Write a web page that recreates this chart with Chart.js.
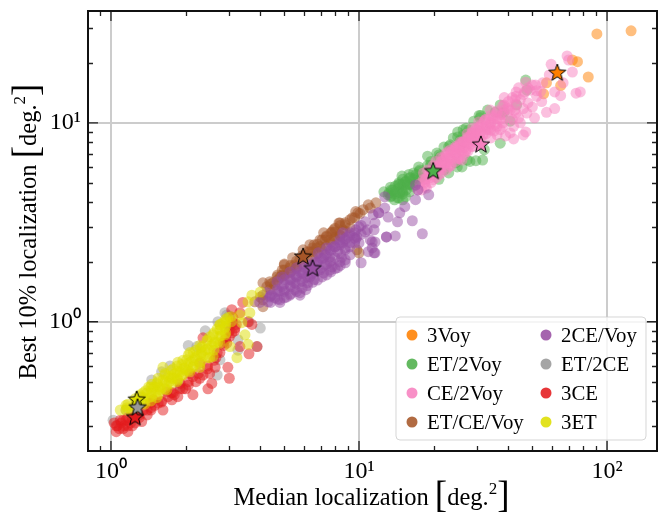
<!DOCTYPE html>
<html>
<head>
<meta charset="utf-8">
<style>
  html, body { margin: 0; padding: 0; background: #fff; }
  #wrap { width: 667px; height: 514px; }
</style>
<script src="https://cdn.jsdelivr.net/npm/chart.js@4/dist/chart.umd.min.js"></script>
</head>
<body>
<div id="wrap"><canvas id="chart" width="667" height="514"></canvas></div>
<script>
// values, [median, best 10%]
const voy3 = [[91,28],[125,29],[72.5,20.7],[76,20.3],[84,17],[57,15.9],[65,15.4],[55.5,14]];
const et2voy = [[47,16.4],[30.5,10.9],[33,11.6],[37.1,12.3],[40.7,10.2],[37.1,7.9],[29.6,6.45],[31.5,6.5],[24.9,6],[22,5.8],
  [26.3,9.24],[25,9],[24,8.4],[22,7.55],[20.6,7.05],[18.9,6.8],[17.4,6],[14.9,5.4],[15.6,4.9],[12.6,4.5],
  [13.4,4.25],[13.7,4.6],[14.4,4.9],[14.6,4.45],[15.4,4.25],[13.9,4.1],[16.1,5.3],[16.6,5.6],[17.6,5.8],[37.8,11.2],
  [43.2,12.3],[47.5,14.6],[26.3,8.7],[24.5,6.3],[27.3,6.5],[32,7.33],[19.4,6.1],[21.2,6.75],[23.3,7.75],[14.9,4.6],
  [15,4.1],[13.2,4.45],[13.1,4.35],[13.9,4.5],[14.6,4.9],[15.4,5.05],[16.1,4.9],[16.9,5.3],[13.4,4.75],[15,4.5],
  [14.3,4.2],[15.9,5.5],[17.9,5.3],[18.9,6.1],[20.8,6.5],[25.6,8.2],[27.7,9.2],[30.8,10.6],[35.4,11.3],[38.5,11.3],
  [13.5,4.3],[13.5,4.6],[14,4.4],[14,4.8],[14.5,4.2],[14.5,4.7],[14.5,5],[15,4.4],[15,4.9],[15,5.2],
  [15.5,4.6],[15.5,5.1],[16,4.5],[16,4.9],[16,5.3],[16.5,4.8],[16.5,5.2],[17,5],[17,5.5],[17.5,5.2],
  [17.5,5.7],[19.5,6.4],[21,6.9],[23,7.6],[25,8.5],[27,9.4],[29,10.2],[31,10.9],[21,5.2],[23,5.6],[26,6],[28,6.4]];
const ce2voy = [[69,21.7],[70,20.7],[59.5,19.7],[72.5,18],[58.5,17.4],[66.5,15.9],[61.5,14.3],[65,13.7],[75,14.1],[78,14.3],
  [57,11.3],[61.5,11.8],[54,14.4],[54.5,12.8],[50,15.5],[55,15.9],[46.5,14.3],[51,10.6],[47.5,11.2],[41.5,13.4],
  [38.5,13.4],[44.7,13.1],[46,13.9],[40.7,11.6],[37.1,10.4],[44.7,10],[46,8.7],[40.7,8.9],[33.8,10.4],[33,9.24],
  [30,9.24],[37.1,9.24],[41.5,10.4],[38.5,12.3],[36.1,11.3],[34.7,10.6],[33.8,11.6],[32,10.2],[30.4,9.5],[28.7,9.4],
  [28.1,8.6],[26.3,8],[27.3,8.8],[24.9,7.5],[25.6,8],[23.7,7.2],[24.5,7.6],[22.8,6.7],[23.3,7.3],[22,6.5],
  [22.4,7],[21.2,6.1],[21.4,6.7],[20.4,5.9],[20.4,6.4],[19.7,5.7],[19.9,6.1],[18.9,5.4],[18.9,5.8],[18.2,5.2],
  [18.2,5.6],[17.6,4.95],[17.3,4.6],[28.1,7.8],[29.6,8.2],[31.6,8.7],[29.5,8.9],[33.8,9.8],[26,7.2],[24.5,6.9],
  [22.8,6.3],[21.4,5.8],[30.8,9.5],[37.1,11],[39.8,12],[42.5,13.1],[49,14.6],[51.5,15.5],[48,15],[43,14.3],
  [18.7,4.7],[17.9,4.6],[19.9,5.18],[21,5.5],[23,6],[25,6.6],[27,7.3],
  [18.4,5],[19.4,5.3],[20.3,5.6],[21.2,5.95],[22.2,6.3],[23.3,6.65],[24.5,7.05],[25.6,7.5],[26.9,7.95],[28.1,8.4],
  [29.5,8.7],[30.8,8.4],[32.3,9.24],[33.8,9.45],[35.4,9.8],[19.4,5.7],[20.6,6.1],[21.8,6.65],[22.8,7.15],[24.5,7.5],
  [26,7.95],[27.7,8.4],[28.7,9],[30.4,10.1],[32.3,10.4],[35.4,10.9],[38.5,11.6],[42.5,11.6],[23.3,6.15],[25,6.65],
  [26.9,7.15],[28.7,7.65],[26,6.5],
  [18.5,4.8],[18.5,5.2],[19.5,5],[19.5,5.5],[20.5,5.3],[20.5,5.7],[20.5,6],[21.5,5.6],[21.5,6],[21.5,6.4],
  [22.5,5.8],[22.5,6.3],[22.5,6.8],[23.5,6.1],[23.5,6.6],[23.5,7.1],[24.5,6.4],[24.5,7.4],[25.5,6.6],[25.5,7.2],
  [25.5,7.8],[26.5,6.9],[26.5,7.5],[26.5,8.1],[27.5,7.2],[27.5,7.9],[27.5,8.5],[28.5,7.6],[28.5,8.2],[28.5,8.9],
  [29.5,8],[29.5,8.6],[29.5,9.3],[31,8.2],[31,9],[31,9.8],[32.5,8.8],[32.5,9.6],[32.5,10.4],[34,9.2],
  [34,10],[34,10.9],[36,9.6],[36,10.5],[36,11.5],[38,10],[38,11],[38,12.2],[40,10.6],[40,11.8],
  [40,12.8],[43,11.2],[43,12.4],[43,13.6],
  [35,9.1],[38,9.6],[42,9.6],[44,10.6],[46,11.8],[48,12.6],[52,13.6],[36,8.7],[34,8.4],[39,8.6],
  [42,8.3],[47,9],[50,12],[44,15],[47,16],[52,14.5]];
const etCeVoy = [[10.9,3.87],[11.7,3.96],[9.9,3.53],[10.1,3.5],[8.3,3.14],[7.8,2.83],[7.2,2.8],[6.96,2.58],[6.34,2.44],[5.4,2.1],
  [5,1.95],[4.67,1.68],[4.37,1.59],[10,2.22],[9.8,2.3],[9.2,3.26],[6.75,2.35],[5.6,1.89],[5.27,1.76],[7.4,2.67],
  [8,2.67],[8.6,2.9],[10.4,3.66],[11.1,3.73],[6.5,2.25],[5.95,2.3],[4.9,1.82],[4.5,1.57],[4.25,1.5],[4.1,1.29],
  [4,1.33],[3.8,1.26],[4.1,1.57],[4.9,1.72],[5,1.93],[4.1,1.19],[9.7,3.58],[8.38,3.14],[7.9,2.9],[9.4,3.33],
  [4.57,1.53],[5,1.72],[5.5,1.93],[6.05,2.17],[6.6,2.44],[7.3,2.58],[8,2.83],[8.8,3.07],[9.6,3.33],[5.78,2.05],
  [6.34,2.25],[6.96,2.39],[7.64,2.58],[8.38,2.73],[9.2,2.97],[4.8,1.67],[5.27,1.87],[4.37,1.45],[4.1,1.36],
  [4.4,1.55],[4.7,1.62],[4.7,1.72],[5,1.7],[5,1.82],[5.3,1.78],[5.3,1.92],[5.6,1.85],[5.6,2.02],[5.9,1.95],
  [5.9,2.15],[6.2,2.05],[6.2,2.25],[6.5,2.12],[6.5,2.35],[6.8,2.2],[6.8,2.45],[7.1,2.3],[7.1,2.58],[7.4,2.4],
  [7.4,2.7],[7.7,2.5],[7.7,2.8],[8,2.6],[8,2.95],[8.4,2.7],[8.4,3.05],[8.8,2.85],[8.8,3.15]];
const ce2Voy = [[4.37,1.33],[4.67,1.45],[4.9,1.5],[5.27,1.63],[5.6,1.68],[5.95,1.76],[6.34,1.82],[6.75,1.98],[7.2,2.1],[7.64,2.12],
  [8.2,2.25],[8.6,2.49],[9,2.67],[9.6,2.8],[10,3],[10.6,3.18],[11.4,3.45],[12,3.53],[4.8,1.29],[5.1,1.33],
  [5.5,1.45],[5.78,1.4],[6.2,1.57],[6.6,1.63],[7.2,1.76],[7.8,1.89],[8.2,1.87],[7.64,2],[8.5,2.1],[8.8,1.98],
  [9.2,2.38],[10,2.49],[11.1,2.58],[11.6,2.52],[11.3,2.35],[11.6,2.22],[10.9,2.25],[10.2,1.98],[12.9,2.67],[11.6,3.14],
  [10.8,2.9],[9.8,2.67],[9.2,2.8],[8.6,2.8],[8.38,2.58],[7.85,2.39],[7.4,2.35],[6.85,2.22],[5.95,1.98],[5.6,1.87],
  [5.27,1.78],[4.9,1.68],[4.67,1.59],[4.25,1.4],[3.98,1.25],[4.3,1.26],[4.8,1.25],[4.45,1.36],[5.27,1.36],[5.78,1.36],
  [6.1,1.45],[18,2.77],[16.4,3.22],[19.1,4.35],[17.3,4.6],[16.9,4.11],[15.3,3.79],[14.6,3.53],[14.3,3.18],[14,2.7],
  [12.9,2.67],[12.7,3.73],[13.1,3.36],[12,3.53],[11.5,2.9],[11.3,2.52],[11.5,2.22],[16.9,4.87],[12.7,4.25],
  [4.57,1.32],[5,1.42],[5.5,1.57],[6.05,1.66],[6.6,1.78],[7.3,1.93],[8,2.1],[8.8,2.3],[9.6,2.49],[4.8,1.42],
  [5.27,1.53],[5.78,1.59],[6.34,1.68],[6.96,1.82],[7.64,1.82],[8.38,2],[9.2,2.17],[5.78,1.78],[6.34,1.93],[6.96,2.1],
  [7.64,2.3],[8.38,2.44],[8.8,2.58],[5,1.63],[5.5,1.72],[6.05,1.87],[6.6,2],[7.3,2.17],[8,2.38],[9.6,2.64],[10.6,2.83],
  [4.4,1.25],[4.4,1.35],[4.7,1.3],[4.7,1.42],[5,1.32],[5,1.45],[5,1.55],[5.3,1.38],[5.3,1.5],[5.3,1.62],
  [5.6,1.42],[5.6,1.55],[5.6,1.7],[5.9,1.48],[5.9,1.6],[5.9,1.75],[6.2,1.52],[6.2,1.68],[6.2,1.85],[6.5,1.58],
  [6.5,1.75],[6.5,1.92],[6.8,1.62],[6.8,1.8],[6.8,2],[7.1,1.68],[7.1,1.88],[7.1,2.08],[7.4,1.72],[7.4,1.95],
  [7.4,2.18],[7.7,1.78],[7.7,2.02],[7.7,2.28],[8,1.85],[8,2.38],[8.4,1.92],[8.4,2.2],[8.4,2.5],[8.8,2.05],
  [8.8,2.35],[8.8,2.62],[9.2,2.5],[9.2,2.72],[9.7,2.6],[9.7,2.9],[10.2,2.75],[10.2,3.05]];
const et2ce = [[4,0.93],[2.93,1.08],[3.25,0.812],[3.88,0.75],[2.68,0.54],[1.9,0.47],[1.73,0.6],[1.46,0.51],[1.02,0.32],[2.22,0.75],
  [2.75,0.644],[1.15,0.36],[1.3,0.42],[1.6,0.56],[2.05,0.76],[2.4,0.9],[2.7,1],[3,1.07],[3.6,1],[3,0.95],
  [2.88,1.11],[3.25,0.72]];
const ce3 = [[1.05,0.28],[1.17,0.28],[1.03,0.31],[1.1,0.31],[1.17,0.3],[1.33,0.315],[1.4,0.34],[1.35,0.36],[1.62,0.36],[1.55,0.39],
  [1.76,0.405],[1.86,0.42],[2.14,0.43],[2,0.46],[2.46,0.46],[2.55,0.49],[2.28,0.52],[2.5,0.55],[2.63,0.59],[3,0.52],
  [2.96,0.59],[3.6,0.69],[3.88,0.75],[3.31,0.75],[3.16,0.93],[3.7,0.97],[2.93,0.78],[2.35,0.83],[3.4,1.25],[3.31,1.11],
  [2.14,0.53],[1.78,0.44],[1.68,0.445],[1.48,0.405],[1.17,0.33],[1.09,0.32],[1.27,0.35],[1.44,0.39],[1.9,0.49],[2.08,0.55],
  [2.28,0.62],[2.68,0.7],[2.83,0.78],[3.07,0.88],[3.1,0.99],[3.57,1],[3.07,1.15],
  [1.08,0.29],[1.13,0.3],[1.2,0.31],[1.25,0.31],[1.3,0.33],[1.4,0.36],[1.45,0.37],[1.5,0.38],[1.6,0.395],[1.7,0.42],
  [1.8,0.43],[1.95,0.46],[2.05,0.48],[2.2,0.5],[2.35,0.54],[2.45,0.58],[2.6,0.64],[2.75,0.7],[2.9,0.82],[3,0.9],
  [3.1,1.05],[3.2,0.97],[1.06,0.3],[1.12,0.32],[1.22,0.33],
  [1.05,0.3],[1.15,0.32],[1.3,0.34],[1.45,0.36],[1.6,0.4],[1.75,0.44],[1.9,0.46],[2.05,0.5],[2.25,0.55],[2.45,0.6],
  [2.65,0.66],[2.85,0.76],[3,0.84],[3.15,0.9],[1.12,0.29],[1.22,0.3]];
const et3 = [[1.09,0.36],[1.16,0.37],[1.21,0.354],[1.33,0.42],[1.4,0.44],[1.42,0.47],[1.48,0.465],[1.53,0.49],[1.62,0.51],[1.58,0.455],
  [1.7,0.53],[1.68,0.48],[1.81,0.55],[1.85,0.5],[1.93,0.61],[2,0.57],[2.02,0.644],[2.22,0.67],[2.14,0.59],[2.28,0.59],
  [2.33,0.75],[2.44,0.81],[2.5,0.72],[2.58,0.67],[2.58,0.86],[2.75,0.91],[2.83,0.99],[2.96,1.05],[2.88,0.86],[2.7,0.79],
  [2.35,0.67],[1.62,0.59],[3.22,0.66],[3.02,0.75],[3.37,0.99],[3.47,0.86],[3.57,0.77],[3.63,1.11],[3.57,1.26],[3.7,1.36],
  [4,1.41],[3.31,1.08],[1.27,0.4],[1.35,0.39],[1.46,0.42],[1.53,0.445],[1.78,0.52],[1.93,0.54],
  [1.17,0.385],[1.31,0.43],[1.46,0.485],[1.65,0.55],[1.86,0.625],[2.08,0.7],[2.28,0.76],[2.5,0.84],[2.75,0.965],
  [1.25,0.37],[1.42,0.415],[1.58,0.465],[1.76,0.52],[1.98,0.585],[2.18,0.66],[2.39,0.72],[2.63,0.79],[2.88,0.93],
  [1.37,0.385],[1.53,0.415],[1.68,0.455],[1.86,0.51],[2.08,0.56],[2.28,0.61],[2.5,0.66],
  [1.38,0.45],[1.5,0.47],[1.72,0.5],[1.9,0.56],[2.1,0.63],[2.32,0.7],[2.55,0.76],[2.78,0.85],[1.3,0.39],[1.55,0.52],
  [1.78,0.58],[2.2,0.72],[2.68,0.92],[2.9,1],
  [1.15,0.36],[1.15,0.38],[1.25,0.38],[1.25,0.41],[1.35,0.41],[1.35,0.44],[1.45,0.44],[1.45,0.47],[1.45,0.4],[1.55,0.47],
  [1.55,0.5],[1.55,0.43],[1.65,0.5],[1.65,0.54],[1.65,0.46],[1.75,0.53],[1.75,0.57],[1.75,0.49],[1.85,0.56],[1.85,0.6],
  [1.85,0.52],[1.95,0.58],[1.95,0.64],[1.95,0.54],[2.05,0.62],[2.05,0.68],[2.05,0.57],[2.15,0.64],[2.15,0.7],[2.15,0.6],
  [2.3,0.68],[2.3,0.74],[2.3,0.63],[2.45,0.73],[2.45,0.8],[2.45,0.66],[2.6,0.78],[2.6,0.88],[2.6,0.72],[2.75,0.85],
  [2.75,0.97],[2.75,0.78],[2.9,0.95],[2.9,1.03],[2.9,0.88],[3.05,1],[3.05,1.06]];

const names = ['3Voy','ET/2Voy','CE/2Voy','ET/CE/Voy','2CE/Voy','ET/2CE','3CE','3ET'];
const rgb = ['255,127,0','77,175,74','247,129,191','166,86,40','152,78,163','153,153,153','228,26,28','222,222,0'];
const clouds = [voy3, et2voy, ce2voy, etCeVoy, ce2Voy, et2ce, ce3, et3];
// the starred event of each network
const stars = [[63,17.8],[19.9,5.7],[31,7.75],[5.95,2.12],[6.5,1.85],[1.28,0.37],[1.25,0.33],[1.27,0.405]];

const xTicks = [1,10,100];
const yTicks = [1,10];
const xTickLabels = ['10⁰','10¹','10²'];
const yTickLabels = ['10⁰','10¹'];
const xMinor = [0.9,2,3,4,5,6,7,8,9,20,30,40,50,60,70,80,90];
const yMinor = [0.3,0.4,0.5,0.6,0.7,0.8,0.9,2,3,4,5,6,7,8,9,20,30];

const serif = '"Liberation Serif", serif';

function starImage(color) {
  const c = document.createElement('canvas');
  c.width = 24; c.height = 24;
  const g = c.getContext('2d');
  g.beginPath();
  for (let i = 0; i < 10; i++) {
    const r = i % 2 ? 3.8 : 9;
    const a = -Math.PI / 2 + i * Math.PI / 5;
    g.lineTo(12 + r * Math.cos(a), 12 + r * Math.sin(a));
  }
  g.closePath();
  g.fillStyle = color;
  g.fill();
  g.strokeStyle = '#000';
  g.lineWidth = 1;
  g.stroke();
  return c;
}

// mixed sizes for the big brackets and the superscript
function drawTitle(ctx, label, cx, base) {
  const parts = [
    {t: label + ' ', s: 24.5, dy: 0},
    {t: '[', s: 37, dy: 2},
    {t: 'deg.', s: 24.5, dy: 0},
    {t: '2', s: 17, dy: -11},
    {t: ']', s: 37, dy: 2}
  ];
  let w = 0;
  parts.forEach(p => { ctx.font = p.s + 'px ' + serif; p.w = ctx.measureText(p.t).width; w += p.w; });
  let x = cx - w / 2;
  ctx.fillStyle = '#000';
  ctx.textAlign = 'left';
  ctx.textBaseline = 'alphabetic';
  parts.forEach(p => {
    ctx.font = p.s + 'px ' + serif;
    ctx.fillText(p.t, x, base + p.dy);
    x += p.w;
  });
}

const decorations = {
  id: 'decorations',
  afterDatasetsDraw(chart) {
    const ctx = chart.ctx, a = chart.chartArea;
    const sx = chart.scales.x, sy = chart.scales.y;
    ctx.save();

    // inward ticks on all four sides
    ctx.strokeStyle = '#222';
    ctx.lineWidth = 1.3;
    ctx.beginPath();
    xMinor.forEach(v => {
      const p = Math.round(sx.getPixelForValue(v)) + 0.5;
      ctx.moveTo(p, a.top); ctx.lineTo(p, a.top + 5);
      ctx.moveTo(p, a.bottom); ctx.lineTo(p, a.bottom - 5);
    });
    yMinor.forEach(v => {
      const p = Math.round(sy.getPixelForValue(v)) + 0.5;
      ctx.moveTo(a.left, p); ctx.lineTo(a.left + 5, p);
      ctx.moveTo(a.right, p); ctx.lineTo(a.right - 5, p);
    });
    xTicks.forEach(v => {
      const p = sx.getPixelForValue(v);
      ctx.moveTo(p, a.top); ctx.lineTo(p, a.top + 10);
      ctx.moveTo(p, a.bottom); ctx.lineTo(p, a.bottom - 10);
    });
    yTicks.forEach(v => {
      const p = sy.getPixelForValue(v);
      ctx.moveTo(a.left, p); ctx.lineTo(a.left + 10, p);
      ctx.moveTo(a.right, p); ctx.lineTo(a.right - 10, p);
    });
    ctx.stroke();

    // frame
    ctx.strokeStyle = '#111';
    ctx.lineWidth = 2;
    ctx.strokeRect(a.left, a.top, a.right - a.left, a.bottom - a.top);

    // legend box
    ctx.beginPath();
    ctx.roundRect(396, 317, 250, 123, 4);
    ctx.fillStyle = 'rgba(255,255,255,0.8)';
    ctx.fill();
    ctx.strokeStyle = 'rgba(204,204,204,0.8)';
    ctx.lineWidth = 1;
    ctx.stroke();
    ctx.font = '20.8px ' + serif;
    ctx.textBaseline = 'alphabetic';
    ctx.textAlign = 'left';
    names.forEach((n, i) => {
      const col = i < 4 ? 0 : 1;
      const mx = col ? 546 : 412;
      const my = 335 + (i % 4) * 29;
      ctx.beginPath();
      ctx.arc(mx, my, 5.5, 0, Math.PI * 2);
      ctx.fillStyle = 'rgba(' + rgb[i] + ',0.88)';
      ctx.fill();
      ctx.fillStyle = '#000';
      ctx.fillText(n, mx + 15, my + 6.5);
    });

    drawTitle(ctx, 'Median localization', 371.5, 505);
    ctx.translate(36, 231.5);
    ctx.rotate(-Math.PI / 2);
    drawTitle(ctx, 'Best 10% localization', 0, 0);
    ctx.restore();
  }
};

const datasets = [];
// first dataset ends up on top, so stars go first and clouds follow in reverse order
stars.forEach((s, i) => {
  datasets.push({
    label: names[i] + ' star',
    data: [{x: s[0], y: s[1]}],
    pointStyle: starImage('rgb(' + rgb[i] + ')'),
    pointRadius: 12,
    showLine: false,
    order: 0
  });
});
clouds.forEach((pts, i) => {
  datasets.push({
    label: names[i],
    data: pts.map(p => ({x: p[0], y: p[1]})),
    pointBackgroundColor: 'rgba(' + rgb[i] + ',0.5)',
    pointBorderColor: 'transparent',
    pointBorderWidth: 0,
    pointRadius: 5.5,
    showLine: false,
    order: clouds.length - i
  });
});

new Chart(document.getElementById('chart').getContext('2d'), {
  type: 'scatter',
  data: {datasets: datasets},
  plugins: [decorations],
  options: {
    responsive: false,
    animation: false,
    layout: {autoPadding: false, padding: {top: 11, right: 10, left: 0, bottom: 0}},
    plugins: {legend: {display: false}, tooltip: {enabled: false}},
    scales: {
      x: {
        type: 'logarithmic',
        min: 0.808,
        max: 159,
        afterBuildTicks: s => { s.ticks = xTicks.map(v => ({value: v})); },
        afterFit: s => { s.height = 63; s.paddingLeft = 0; s.paddingRight = 0; },
        grid: {color: '#cccccc', lineWidth: 2, drawTicks: false},
        border: {display: false},
        ticks: {
          autoSkip: false, maxRotation: 0, padding: 6, color: '#000',
          font: {family: serif, size: 24},
          callback: (v, i) => xTickLabels[i]
        }
      },
      y: {
        type: 'logarithmic',
        min: 0.224,
        max: 36.5,
        afterBuildTicks: s => { s.ticks = yTicks.map(v => ({value: v})); },
        afterFit: s => { s.width = 88; s.paddingTop = 0; s.paddingBottom = 0; },
        grid: {color: '#cccccc', lineWidth: 2, drawTicks: false},
        border: {display: false},
        ticks: {
          autoSkip: false, padding: 7, color: '#000',
          font: {family: serif, size: 24},
          callback: (v, i) => yTickLabels[i]
        }
      }
    }
  }
});
</script>
</body>
</html>
